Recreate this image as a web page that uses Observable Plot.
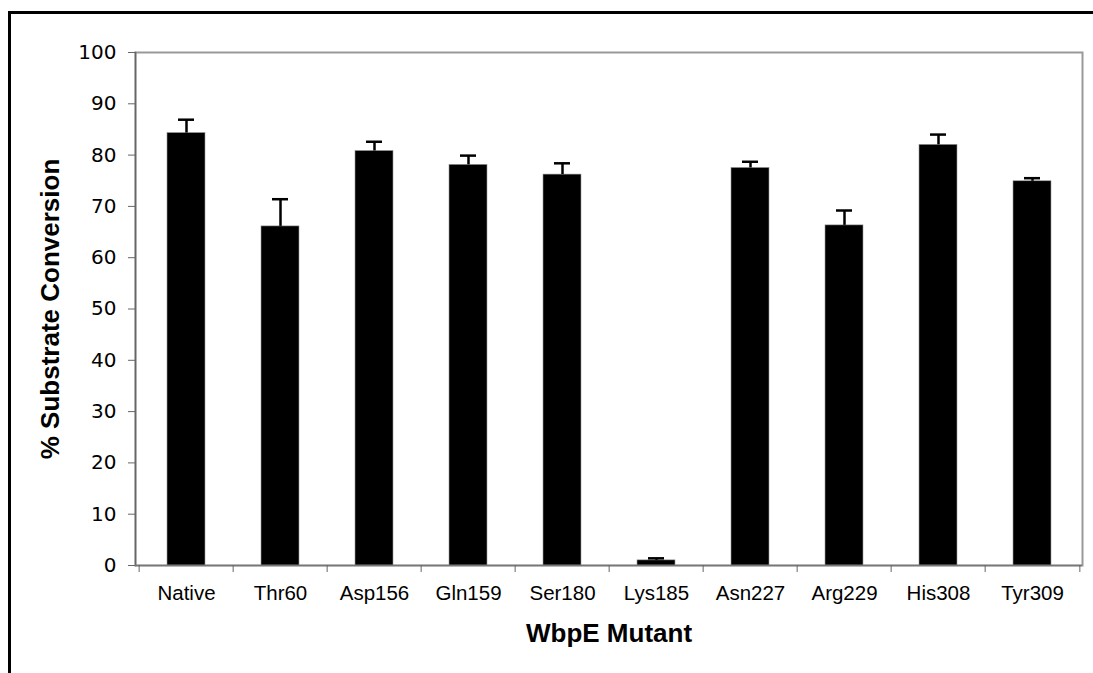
<!DOCTYPE html>
<html><head><meta charset="utf-8">
<script src="https://cdn.jsdelivr.net/npm/d3@7"></script>
<script src="https://cdn.jsdelivr.net/npm/@observablehq/plot@0.6"></script>
<style>
html,body{margin:0;padding:0;background:#fff;}
#wrap{position:relative;width:1093px;height:673px;overflow:hidden;}
#border{position:absolute;left:8px;top:11px;width:1200px;height:800px;border-top:3px solid #000;border-left:3px solid #000;pointer-events:none;}
#wrap svg{position:absolute;left:0;top:0;}
g[aria-label="y-axis label"] text, g[aria-label="x-axis label"] text{font-family:"Liberation Sans",Arial,sans-serif;font-size:26px;font-weight:bold;fill:#000;}
</style>
</head><body>
<div id="wrap"><div id="border"></div></div>
<script>
const mutants = ["Native","Thr60","Asp156","Gln159","Ser180","Lys185","Asn227","Arg229","His308","Tyr309"];
const conversion = [84.3, 66.1, 80.8, 78.1, 76.2, 1.0, 77.5, 66.3, 82.0, 74.9];
const errors = [2.6, 5.3, 1.8, 1.8, 2.2, 0.4, 1.2, 2.9, 2.0, 0.6];
const yTicks = [0,10,20,30,40,50,60,70,80,90,100];

const data = mutants.map((m,i)=>({mutant:m, value:conversion[i], err:errors[i]}));
const W = 1093, H = 673, ML = 135, MR = 11, MT = 52, MB = 108;
const bw = (W - ML - MR) / mutants.length;

const chart = Plot.plot({
  width: W, height: H,
  marginLeft: ML, marginRight: MR, marginTop: MT, marginBottom: MB,
  style: {fontFamily: "'Liberation Sans', Arial, sans-serif", background: "white", color: "#000"},
  x: {domain: mutants, padding: 0, label: null},
  y: {domain: [0, 100], label: null},
  marks: [
    Plot.frame({stroke: "#999", strokeWidth: 2}),
    Plot.frame({anchor: "left", stroke: "#666", strokeWidth: 1.5}),
    Plot.barY(data, {x: "mutant", y: "value", fill: "#000", stroke: "#999", strokeWidth: 0.6, insetLeft: 28, insetRight: 28}),
    Plot.ruleX(data, {x: "mutant", y1: "value", y2: d => d.value + d.err, stroke: "#000", strokeWidth: 2.5}),
    Plot.tickY(data, {x: "mutant", y: d => d.value + d.err, stroke: "#000", strokeWidth: 2.5, insetLeft: 39, insetRight: 39}),
    Plot.ruleY([0], {stroke: "#777", strokeWidth: 1.5}),
    Plot.axisY({ticks: yTicks, tickSize: 7, tickPadding: 12, stroke: "#666", fontSize: 20, fontFamily: "'DejaVu Sans', Verdana, sans-serif",
      label: "% Substrate Conversion", labelAnchor: "center", labelOffset: 95, labelArrow: "none"}),
    Plot.axisX({tickSize: 0, tickPadding: 20, fontSize: 20.5, label: "WbpE Mutant", labelAnchor: "center", labelOffset: 76, labelArrow: "none"}),
    Plot.axisX({tickSize: 7, tickFormat: () => "", dx: -bw / 2, label: null, stroke: "#666"}),
    Plot.axisX({ticks: [mutants[mutants.length - 1]], tickSize: 7, tickFormat: () => "", dx: bw / 2, label: null, stroke: "#666"})
  ]
});
document.getElementById("wrap").insertBefore(chart, document.getElementById("border"));
</script>
</body></html>
